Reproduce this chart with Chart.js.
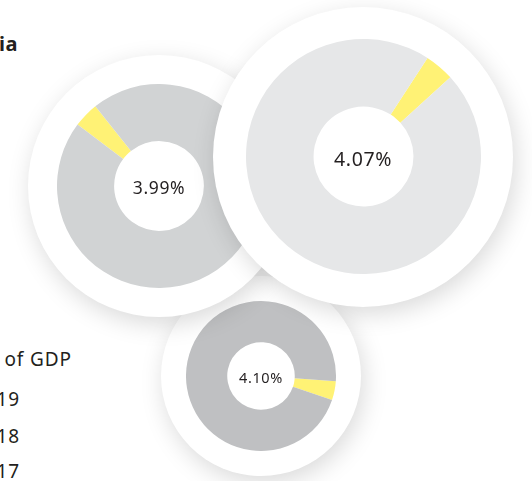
<!DOCTYPE html>
<html>
<head>
<meta charset="utf-8">
<script src="https://cdn.jsdelivr.net/npm/chart.js@4"></script>
<style>
  html, body { margin: 0; padding: 0; background: #fff; }
  body { width: 532px; height: 481px; position: relative; overflow: hidden; font-family: "Noto Sans", sans-serif; color: #231f20; }
  .disc { position: absolute; border-radius: 50%; background: #fff; box-shadow: 3px 7px 24px rgba(0,0,0,0.15); }
  .disc canvas { position: absolute; }
  .mid { position: absolute; transform: translate(-50%, -50%); white-space: nowrap; letter-spacing: 0.6px; }
  .lbl { position: absolute; white-space: nowrap; text-align: right; letter-spacing: 0.9px; }
</style>
</head>
<body>
<div class="lbl" style="right:514px; top:30px; font-size:20px; font-weight:700; letter-spacing:0.5px;">ia</div>
<div class="lbl" style="right:460px; top:346px; font-size:19px;">of GDP</div>
<div class="lbl" style="right:512px; top:386px; font-size:19px;">19</div>
<div class="lbl" style="right:512px; top:423px; font-size:19px;">18</div>
<div class="lbl" style="right:512px; top:458px; font-size:19px;">17</div>

<div class="disc" id="d2017" style="left:161px; top:276px; width:200px; height:200px;">
  <canvas id="c2017" width="150" height="150" style="left:25px; top:25px;"></canvas>
  <div class="mid" style="left:100px; top:101px; font-size:14.5px;">4.10%</div>
</div>
<div class="disc" id="d2018" style="left:28px; top:55px; width:262px; height:262px;">
  <canvas id="c2018" width="204" height="204" style="left:29px; top:29px;"></canvas>
  <div class="mid" style="left:131px; top:132px; font-size:17.5px;">3.99%</div>
</div>
<div class="disc" id="d2019" style="left:213px; top:7px; width:300px; height:300px;">
  <canvas id="c2019" width="235" height="235" style="left:33px; top:32px;"></canvas>
  <div class="mid" style="left:150px; top:151px; font-size:19.5px;">4.07%</div>
</div>

<script>
const years = ["2019", "2018", "2017"];
const share = [4.07, 3.99, 4.10];
const sliceLabels = ["% of GDP", "Rest"];

const ringColors = { "2019": "#e6e7e8", "2018": "#d1d3d4", "2017": "#bfc0c2" };
const startAngle = { "2019": 33, "2018": 307, "2017": 94 };
const holeCut = { "2019": "42.5%", "2018": "44%", "2017": "45%" };

years.forEach((yr, i) => {
  const v = share[i];
  new Chart(document.getElementById('c' + yr), {
    type: 'doughnut',
    data: {
      labels: sliceLabels,
      datasets: [{
        data: [v, 100 - v],
        backgroundColor: ['#fff275', ringColors[yr]],
        borderWidth: 0
      }]
    },
    options: {
      responsive: false,
      animation: false,
      rotation: startAngle[yr],
      cutout: holeCut[yr],
      layout: { padding: 0 },
      plugins: { legend: { display: false }, tooltip: { enabled: false } }
    }
  });
});
</script>
</body>
</html>
